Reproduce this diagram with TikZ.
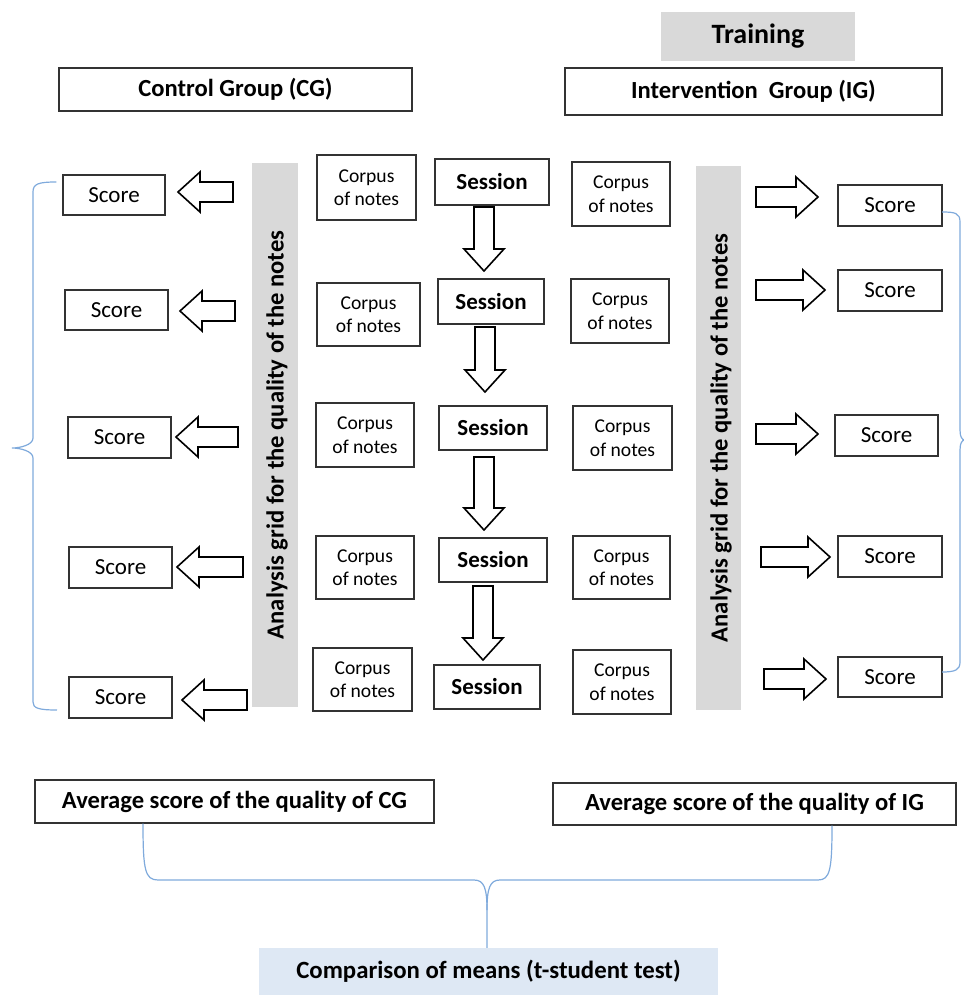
\documentclass[tikz,border=0pt]{standalone}
\usepackage{fontspec}
\setmainfont{Carlito}
\definecolor{edge}{HTML}{333333}
\definecolor{barfill}{HTML}{D9D9D9}
\definecolor{bracec}{HTML}{7FAADC}
\definecolor{cmpfill}{HTML}{DEE8F4}
\newcommand{\bx}[7][plainbox]{\node[#1, minimum width={#5pt-#3pt}, minimum height={#6pt-#4pt}] (#2) at ({(#3+#5)/2},{(#4+#6)/2}) {#7};}
\newcommand{\arrL}[4]{\draw[blockarrow] (#2,#3) -- ++(22,-20) -- ++(0,10) coordinate (#1) -- (#4,#3-10) -- (#4,#3+10) -- (#2+22,#3+10) -- (#2+22,#3+20) -- cycle;}
\newcommand{\arrR}[4]{\draw[blockarrow] (#4,#3) -- ++(-22,-20) -- ++(0,10) coordinate (#1) -- (#2,#3-10) -- (#2,#3+10) -- (#4-22,#3+10) -- (#4-22,#3+20) -- cycle;}
\newcommand{\arrD}[4]{\draw[blockarrow] (#2,#4) -- ++(-20,-22) -- ++(10,0) coordinate (#1) -- (#2-10,#3) -- (#2+10,#3) -- (#2+10,#4-22) -- (#2+20,#4-22) -- cycle;}
\begin{document}
\begin{tikzpicture}[x=1pt,y=-1pt,
  plainbox/.style={draw=edge, line width=1.2pt, fill=white, inner sep=0pt, align=center},
  scorebox/.style={plainbox, font=\fontsize{23}{26}\selectfont},
  corpusbox/.style={plainbox, font=\fontsize{19.6}{23.5}\selectfont},
  sessbox/.style={plainbox, font=\fontsize{23}{26}\selectfont\bfseries},
  titlebox/.style={plainbox, font=\fontsize{24.6}{28}\selectfont\bfseries},
  graybox/.style={fill=barfill, inner sep=0pt, align=center, font=\fontsize{28}{32}\selectfont\bfseries},
  cmpbox/.style={fill=cmpfill, inner sep=0pt, align=center, font=\fontsize{24.8}{28}\selectfont\bfseries},
  bartext/.style={rotate=90, font=\fontsize{24.6}{28}\selectfont\bfseries},
  blockarrow/.style={draw=black, line width=1.6pt, fill=white, line join=miter},
  bracestyle/.style={draw=bracec, line width=1.2pt}]
\useasboundingbox (0,0) rectangle (963,995);
% headers
\bx[graybox]{train}{661}{12}{855}{61}{Training}
\bx[titlebox]{cg}{59}{68}{412}{111}{Control Group (CG)}
\bx[titlebox]{ig}{565}{68}{942}{115}{Intervention\ \ Group (IG)}
% gray analysis bars
\bx[graybox]{barL}{252}{163}{298}{707}{}
\bx[graybox]{barR}{696}{166}{741}{710}{}
\node[bartext] (barLt) at (277,435) {Analysis grid for the quality of the notes};
\node[bartext] (barRt) at (721,438) {Analysis grid for the quality of the notes};
% left scores
\bx[scorebox]{sl1}{63}{175}{165}{215}{Score}
\bx[scorebox]{sl2}{65}{290}{168}{330}{Score}
\bx[scorebox]{sl3}{68}{417}{171}{458}{Score}
\bx[scorebox]{sl4}{69}{547}{172}{588}{Score}
\bx[scorebox]{sl5}{69}{677}{172}{718}{Score}
% right scores
\bx[scorebox]{sr1}{838}{185}{942}{226}{Score}
\bx[scorebox]{sr2}{838}{270}{942}{311}{Score}
\bx[scorebox]{sr3}{835}{415}{938}{456}{Score}
\bx[scorebox]{sr4}{838}{536}{942}{577}{Score}
\bx[scorebox]{sr5}{838}{657}{942}{697}{Score}
% left corpus
\bx[corpusbox]{cl1}{317}{155}{416}{220}{Corpus\\of notes}
\bx[corpusbox]{cl2}{317}{283}{420}{346}{Corpus\\of notes}
\bx[corpusbox]{cl3}{316}{403}{414}{467}{Corpus\\of notes}
\bx[corpusbox]{cl4}{316}{536}{414}{599}{Corpus\\of notes}
\bx[corpusbox]{cl5}{313}{648}{412}{711}{Corpus\\of notes}
% right corpus
\bx[corpusbox]{cr1}{572}{162}{670}{226}{Corpus\\of notes}
\bx[corpusbox]{cr2}{571}{279}{669}{343}{Corpus\\of notes}
\bx[corpusbox]{cr3}{573}{406}{672}{470}{Corpus\\of notes}
\bx[corpusbox]{cr4}{573}{536}{670}{599}{Corpus\\of notes}
\bx[corpusbox]{cr5}{573}{650}{671}{714}{Corpus\\of notes}
% sessions
\bx[sessbox]{s1}{435}{159}{549}{205}{Session}
\bx[sessbox]{s2}{438}{279}{544}{324}{Session}
\bx[sessbox]{s3}{439}{406}{547}{450}{Session}
\bx[sessbox]{s4}{439}{538}{547}{582}{Session}
\bx[sessbox]{s5}{434}{665}{540}{709}{Session}
% arrows
\arrL{al1}{178}{192}{233}
\arrL{al2}{180}{311}{235}
\arrL{al3}{176}{437}{238}
\arrL{al4}{177}{567}{243}
\arrL{al5}{182}{700}{247}
\arrR{ar1}{756}{197}{818}
\arrR{ar2}{756}{290}{825}
\arrR{ar3}{756}{434}{818}
\arrR{ar4}{761}{557}{830}
\arrR{ar5}{764}{679}{826}
\arrD{ad1}{484}{207}{271}
\arrD{ad2}{485}{327}{392}
\arrD{ad3}{484}{457}{530}
\arrD{ad4}{483}{586}{660}
% averages and comparison
\bx[titlebox]{avcg}{35}{780}{434}{823}{Average score of the quality of CG}
\bx[titlebox]{avig}{553}{783}{956}{825}{Average score of the quality of IG}
\bx[cmpbox]{cmp}{259}{948}{718}{995}{Comparison of means (t-student test)}
% braces
\draw[bracestyle] (sl1.west |- 0,182) ++(-6,0) coordinate (lbt) .. controls (38,182) and (33,184) .. (33,192) -- (33,438) .. controls (33,445) and (20,448) .. (12,448) .. controls (20,448) and (33,451) .. (33,458) -- (33,702) .. controls (33,708) and (38,710) .. (57,710) coordinate (lbb);
\draw[bracestyle] (942,212) coordinate (rbt) .. controls (955,212) and (960,213) .. (960,222) -- (960,430) .. controls (960,437) and (962,440) .. (965,440) .. controls (962,440) and (960,443) .. (960,450) -- (960,662) .. controls (960,670) and (955,672) .. (942,672) coordinate (rbb);
\draw[bracestyle] (avcg.south -| 143,0) .. controls (143,870) and (145,880) .. (158,880) -- (474,880) .. controls (484,880) and (487,888) .. (487,910) -- (cmp.north -| 487,0);
\draw[bracestyle] (avig.south -| 832,0) .. controls (832,870) and (830,880) .. (818,880) -- (500,880) .. controls (490,880) and (487,888) .. (487,910);
\end{tikzpicture}
\end{document}
